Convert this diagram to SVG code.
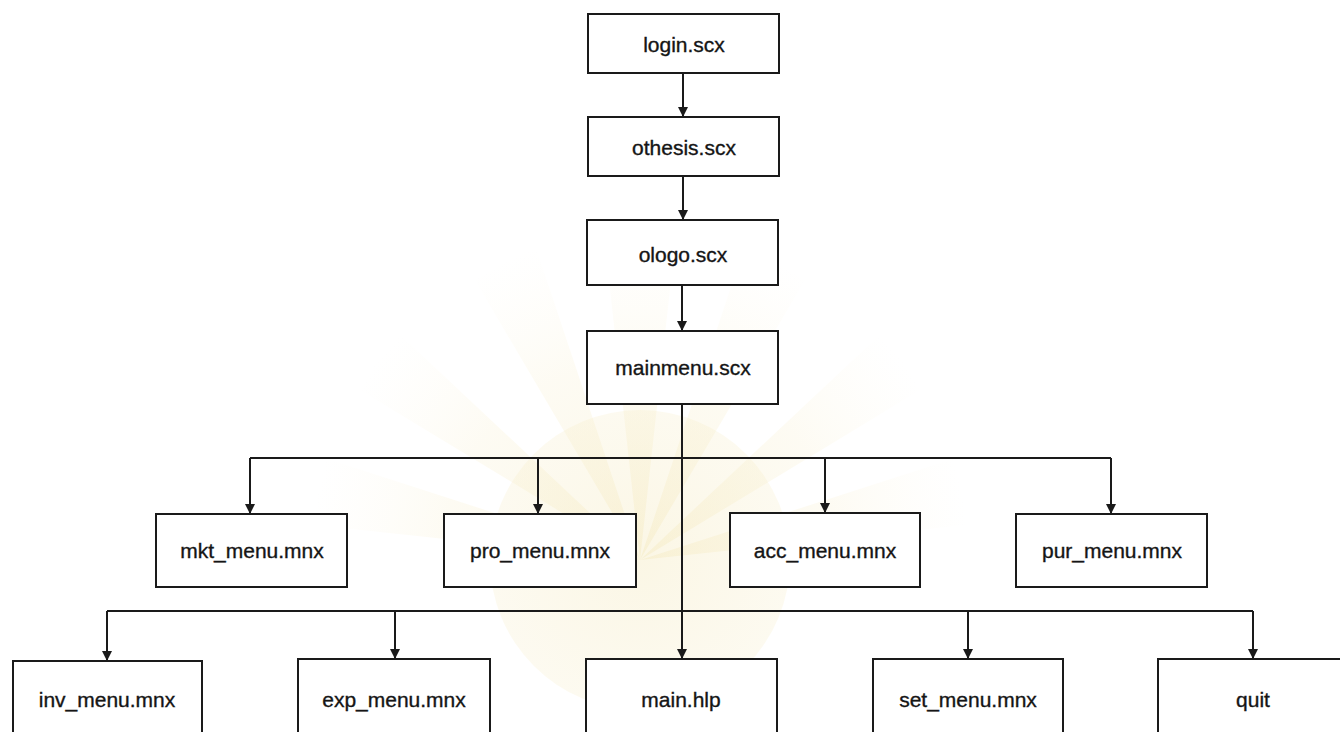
<svg xmlns="http://www.w3.org/2000/svg" width="1340" height="732" viewBox="0 0 1340 732">
  <defs>
    <marker id="arrow" markerUnits="userSpaceOnUse" markerWidth="10" markerHeight="10" refX="10" refY="5" orient="auto">
      <path d="M0,0 L10,5 L0,10 z" fill="#1a1a1a"/>
    </marker>
    <radialGradient id="seal" cx="640" cy="560" r="330" gradientUnits="userSpaceOnUse">
      <stop offset="0" stop-color="#f3e6b4" stop-opacity="0.35"/>
      <stop offset="0.6" stop-color="#f7edc8" stop-opacity="0.22"/>
      <stop offset="1" stop-color="#fbf4dc" stop-opacity="0"/>
    </radialGradient>
    <style>
      .box { fill: #ffffff; stroke: #1a1a1a; stroke-width: 2; }
      .lbl { font-family: "Liberation Sans", Arial, sans-serif; font-size: 21px; fill: #151515; stroke: #151515; stroke-width: 0.35; text-anchor: middle; }
      .wire { fill: none; stroke: #1a1a1a; stroke-width: 2; }
    </style>
  </defs>

  <rect width="1340" height="732" fill="#ffffff"/>

  <!-- faint sunburst emblem printed behind the chart -->
  <g id="emblem" fill="url(#seal)">
    <path d="M640,560 L604,235 L676,235 Z"/>
    <path d="M640,560 L475,280 L535,245 Z"/>
    <path d="M640,560 L360,390 L395,330 Z"/>
    <path d="M640,560 L315,525 L315,455 Z"/>
    <path d="M640,560 L745,245 L805,280 Z"/>
    <path d="M640,560 L885,330 L920,390 Z"/>
    <path d="M640,560 L965,455 L965,525 Z"/>
    <circle cx="640" cy="560" r="150"/>
  </g>

  <!-- connectors -->
  <g id="connectors" class="wire">
    <line x1="683" y1="73" x2="683" y2="117" marker-end="url(#arrow)"/>
    <line x1="683" y1="176" x2="683" y2="220" marker-end="url(#arrow)"/>
    <line x1="682" y1="285" x2="682" y2="331" marker-end="url(#arrow)"/>
    <line x1="682" y1="404" x2="682" y2="659" marker-end="url(#arrow)"/>

    <!-- first fan-out -->
    <line x1="250" y1="458" x2="1111" y2="458"/>
    <line x1="250" y1="458" x2="250" y2="514" marker-end="url(#arrow)"/>
    <line x1="538" y1="458" x2="538" y2="514" marker-end="url(#arrow)"/>
    <line x1="825" y1="458" x2="825" y2="513" marker-end="url(#arrow)"/>
    <line x1="1111" y1="458" x2="1111" y2="514" marker-end="url(#arrow)"/>

    <!-- second fan-out -->
    <line x1="107" y1="611" x2="1253" y2="611"/>
    <line x1="107" y1="611" x2="107" y2="661" marker-end="url(#arrow)"/>
    <line x1="395" y1="611" x2="395" y2="659" marker-end="url(#arrow)"/>
    <line x1="968" y1="611" x2="968" y2="659" marker-end="url(#arrow)"/>
    <line x1="1253" y1="611" x2="1253" y2="659" marker-end="url(#arrow)"/>
  </g>

  <!-- screens -->
  <g id="login">
    <rect class="box" x="588" y="14" width="191" height="59"/>
    <text class="lbl" x="684" y="52">login.scx</text>
  </g>
  <g id="othesis">
    <rect class="box" x="588" y="117" width="191" height="59"/>
    <text class="lbl" x="684" y="155">othesis.scx</text>
  </g>
  <g id="ologo">
    <rect class="box" x="587" y="220" width="191" height="65"/>
    <text class="lbl" x="683" y="262">ologo.scx</text>
  </g>
  <g id="mainmenu">
    <rect class="box" x="587" y="331" width="191" height="73"/>
    <text class="lbl" x="683" y="375">mainmenu.scx</text>
  </g>

  <!-- menus -->
  <g id="mkt_menu">
    <rect class="box" x="156" y="514" width="191" height="73"/>
    <text class="lbl" x="252" y="558">mkt_menu.mnx</text>
  </g>
  <g id="pro_menu">
    <rect class="box" x="444" y="514" width="192" height="73"/>
    <text class="lbl" x="540" y="558">pro_menu.mnx</text>
  </g>
  <g id="acc_menu">
    <rect class="box" x="730" y="513" width="190" height="74"/>
    <text class="lbl" x="825" y="558">acc_menu.mnx</text>
  </g>
  <g id="pur_menu">
    <rect class="box" x="1016" y="514" width="191" height="73"/>
    <text class="lbl" x="1112" y="558">pur_menu.mnx</text>
  </g>

  <!-- bottom row (runs past the lower edge) -->
  <g id="inv_menu">
    <rect class="box" x="13" y="661" width="189" height="90"/>
    <text class="lbl" x="107" y="707">inv_menu.mnx</text>
  </g>
  <g id="exp_menu">
    <rect class="box" x="298" y="659" width="192" height="92"/>
    <text class="lbl" x="394" y="707">exp_menu.mnx</text>
  </g>
  <g id="main_hlp">
    <rect class="box" x="586" y="659" width="191" height="92"/>
    <text class="lbl" x="681" y="707">main.hlp</text>
  </g>
  <g id="set_menu">
    <rect class="box" x="873" y="659" width="190" height="92"/>
    <text class="lbl" x="968" y="707">set_menu.mnx</text>
  </g>
  <g id="quit">
    <rect class="box" x="1158" y="659" width="190" height="92"/>
    <text class="lbl" x="1253" y="707">quit</text>
  </g>
</svg>
